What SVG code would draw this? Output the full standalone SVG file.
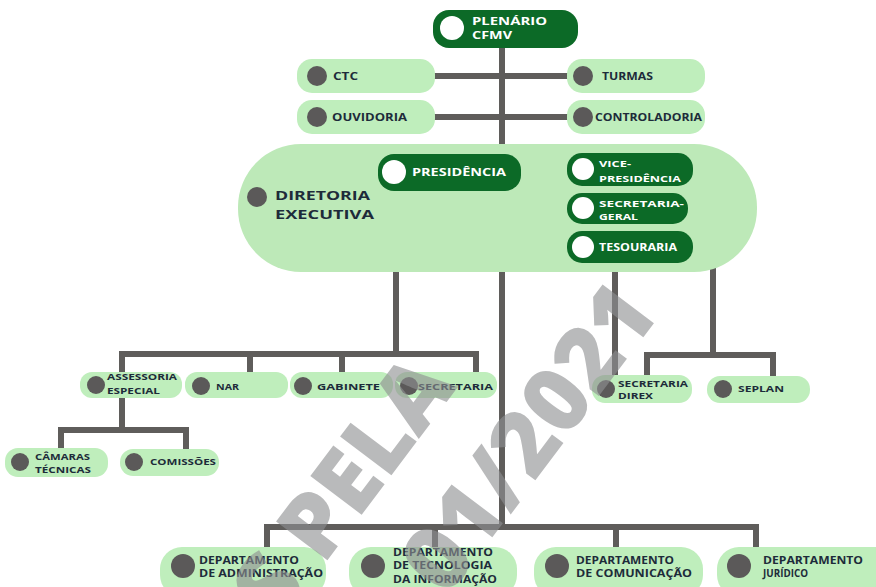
<svg xmlns="http://www.w3.org/2000/svg" width="876" height="587" viewBox="0 0 876 587">
<style>
.pl{fill:#bfeebc}
.pd{fill:#0c6a27}
.cd{fill:#5b5959}
.cw{fill:#ffffff}
.t{fill:#1d2b3a;font-family:"Open Sans","DejaVu Sans",sans-serif;font-weight:700}
.tw{fill:#ffffff;font-family:"Open Sans","DejaVu Sans",sans-serif;font-weight:700}
.ln{fill:none;stroke:#5f5d5b;stroke-width:6;stroke-linecap:square;stroke-linejoin:miter}
.wm{fill:#8f9092;opacity:0.62;font-family:"Open Sans","DejaVu Sans",sans-serif;font-weight:800;font-size:90px}
</style>
<rect width="876" height="587" fill="#ffffff"/>
<g id="connectors">
<path class="ln" d="M502,47 V527"/>
<path class="ln" d="M434,76 H567"/>
<path class="ln" d="M434,117 H567"/>
<path class="ln" d="M396,190 V354"/>
<path class="ln" d="M122,372 V354 H476 V374"/>
<path class="ln" d="M250,354 V374"/>
<path class="ln" d="M342,354 V374"/>
<path class="ln" d="M122,398 V430"/>
<path class="ln" d="M61,448 V430 H186 V448"/>
<path class="ln" d="M615,263 V376"/>
<path class="ln" d="M687,207 H713 V355"/>
<path class="ln" d="M647,376 V355 H773 V376"/>
<path class="ln" d="M267,548 V527 H756 V548"/>
<path class="ln" d="M435,527 V548"/>
<path class="ln" d="M616,527 V548"/>
</g>
<g id="plenario">
<rect class="pd" x="433" y="10" width="145" height="38" rx="16"/>
<circle class="cw" cx="452" cy="28" r="12"/>
<text class="tw" x="472" y="25" font-size="11" textLength="75" lengthAdjust="spacingAndGlyphs">PLENÁRIO</text>
<text class="tw" x="472" y="39" font-size="11" textLength="40" lengthAdjust="spacingAndGlyphs">CFMV</text>
</g>
<g id="ctc">
<rect class="pl" x="297" y="59" width="138" height="34" rx="15"/>
<circle class="cd" cx="317" cy="76" r="10"/>
<text class="t" x="333" y="80" font-size="10.5" textLength="25" lengthAdjust="spacingAndGlyphs">CTC</text>
</g>
<g id="turmas">
<rect class="pl" x="567" y="59" width="138" height="34" rx="15"/>
<circle class="cd" cx="583" cy="76" r="10"/>
<text class="t" x="602" y="80" font-size="10.5" textLength="51" lengthAdjust="spacingAndGlyphs">TURMAS</text>
</g>
<g id="ouvidoria">
<rect class="pl" x="297" y="100" width="138" height="34" rx="15"/>
<circle class="cd" cx="317" cy="117" r="10"/>
<text class="t" x="332" y="121" font-size="10.5" textLength="75" lengthAdjust="spacingAndGlyphs">OUVIDORIA</text>
</g>
<g id="controladoria">
<rect class="pl" x="567" y="100" width="138" height="34" rx="15"/>
<circle class="cd" cx="583" cy="117" r="10"/>
<text class="t" x="595" y="121" font-size="10.5" textLength="107" lengthAdjust="spacingAndGlyphs">CONTROLADORIA</text>
</g>
<g id="diretoria">
<rect class="pl" x="238" y="144" width="519" height="128" rx="63" style="fill:#bde9b8"/>
<circle class="cd" cx="257" cy="197" r="10"/>
<text class="t" x="275" y="200" font-size="13" textLength="95" lengthAdjust="spacingAndGlyphs">DIRETORIA</text>
<text class="t" x="275" y="219" font-size="13" textLength="99" lengthAdjust="spacingAndGlyphs">EXECUTIVA</text>
</g>
<g id="presidencia">
<rect class="pd" x="378" y="154" width="143" height="37" rx="16"/>
<circle class="cw" cx="394" cy="172" r="12"/>
<text class="tw" x="412" y="176" font-size="10" textLength="94" lengthAdjust="spacingAndGlyphs">PRESIDÊNCIA</text>
</g>
<g id="vice-presidencia">
<rect class="pd" x="567" y="153" width="126" height="33" rx="15"/>
<circle class="cw" cx="583" cy="169" r="11"/>
<text class="tw" x="599" y="167" font-size="9" textLength="32" lengthAdjust="spacingAndGlyphs">VICE-</text>
<text class="tw" x="599" y="182" font-size="9" textLength="82" lengthAdjust="spacingAndGlyphs">PRESIDÊNCIA</text>
</g>
<g id="secretaria-geral">
<rect class="pd" x="567" y="193" width="121" height="31" rx="15"/>
<circle class="cw" cx="583" cy="208" r="11"/>
<text class="tw" x="599" y="207" font-size="8.5" textLength="85" lengthAdjust="spacingAndGlyphs">SECRETARIA-</text>
<text class="tw" x="599" y="220" font-size="8.5" textLength="39" lengthAdjust="spacingAndGlyphs">GERAL</text>
</g>
<g id="tesouraria">
<rect class="pd" x="567" y="231" width="126" height="32" rx="15"/>
<circle class="cw" cx="583" cy="247" r="11"/>
<text class="tw" x="599" y="251" font-size="10" textLength="78" lengthAdjust="spacingAndGlyphs">TESOURARIA</text>
</g>
<g id="assessoria-especial">
<rect class="pl" x="80" y="372" width="102" height="26" rx="12"/>
<circle class="cd" cx="96" cy="385" r="9"/>
<text class="t" x="107" y="380" font-size="8" textLength="70" lengthAdjust="spacingAndGlyphs">ASSESSORIA</text>
<text class="t" x="107" y="394" font-size="8" textLength="53" lengthAdjust="spacingAndGlyphs">ESPECIAL</text>
</g>
<g id="nar">
<rect class="pl" x="185" y="372" width="103" height="26" rx="12"/>
<circle class="cd" cx="201" cy="386" r="9"/>
<text class="t" x="216" y="390" font-size="9.5" textLength="23" lengthAdjust="spacingAndGlyphs">NAR</text>
</g>
<g id="gabinete">
<rect class="pl" x="290" y="372" width="103" height="26" rx="12"/>
<circle class="cd" cx="303" cy="386" r="9"/>
<text class="t" x="317" y="390" font-size="9.5" textLength="63" lengthAdjust="spacingAndGlyphs">GABINETE</text>
</g>
<g id="secretaria">
<rect class="pl" x="395" y="372" width="102" height="26" rx="12"/>
<circle class="cd" cx="409" cy="386" r="9"/>
<text class="t" x="418" y="390" font-size="9.5" textLength="75" lengthAdjust="spacingAndGlyphs">SECRETARIA</text>
</g>
<g id="camaras-tecnicas">
<rect class="pl" x="5" y="448" width="103" height="29" rx="13"/>
<circle class="cd" cx="20" cy="462" r="9"/>
<text class="t" x="35" y="460" font-size="8.5" textLength="55" lengthAdjust="spacingAndGlyphs">CÂMARAS</text>
<text class="t" x="35" y="473" font-size="8.5" textLength="56" lengthAdjust="spacingAndGlyphs">TÉCNICAS</text>
</g>
<g id="comissoes">
<rect class="pl" x="120" y="449" width="99" height="27" rx="13"/>
<circle class="cd" cx="134" cy="462" r="9"/>
<text class="t" x="150" y="465" font-size="8.5" textLength="66" lengthAdjust="spacingAndGlyphs">COMISSÕES</text>
</g>
<g id="secretaria-direx">
<rect class="pl" x="592" y="375" width="100" height="28" rx="13"/>
<circle class="cd" cx="606" cy="389" r="9"/>
<text class="t" x="618" y="387" font-size="8.5" textLength="70" lengthAdjust="spacingAndGlyphs">SECRETARIA</text>
<text class="t" x="618" y="399" font-size="8.5" textLength="35" lengthAdjust="spacingAndGlyphs">DIREX</text>
</g>
<g id="seplan">
<rect class="pl" x="707" y="376" width="103" height="27" rx="13"/>
<circle class="cd" cx="723" cy="389" r="9"/>
<text class="t" x="738" y="392" font-size="9" textLength="46" lengthAdjust="spacingAndGlyphs">SEPLAN</text>
</g>
<g id="dep-administracao">
<rect class="pl" x="160" y="547" width="166" height="50" rx="22"/>
<circle class="cd" cx="183" cy="566" r="12"/>
<text class="t" x="199" y="564" font-size="10" textLength="100" lengthAdjust="spacingAndGlyphs">DEPARTAMENTO</text>
<text class="t" x="199" y="577" font-size="10" textLength="124" lengthAdjust="spacingAndGlyphs">DE ADMINISTRAÇÃO</text>
</g>
<g id="dep-tecnologia">
<rect class="pl" x="349" y="547" width="168" height="50" rx="22"/>
<circle class="cd" cx="373" cy="566" r="12"/>
<text class="t" x="393" y="556" font-size="10" textLength="100" lengthAdjust="spacingAndGlyphs">DEPARTAMENTO</text>
<text class="t" x="393" y="569" font-size="10" textLength="99" lengthAdjust="spacingAndGlyphs">DE TECNOLOGIA</text>
<text class="t" x="393" y="583" font-size="10" textLength="104" lengthAdjust="spacingAndGlyphs">DA INFORMAÇÃO</text>
</g>
<g id="dep-comunicacao">
<rect class="pl" x="534" y="547" width="169" height="50" rx="22"/>
<circle class="cd" cx="557" cy="566" r="12"/>
<text class="t" x="576" y="564" font-size="10" textLength="98" lengthAdjust="spacingAndGlyphs">DEPARTAMENTO</text>
<text class="t" x="576" y="577" font-size="10" textLength="116" lengthAdjust="spacingAndGlyphs">DE COMUNICAÇÃO</text>
</g>
<g id="dep-juridico">
<rect class="pl" x="717" y="547" width="180" height="50" rx="22"/>
<circle class="cd" cx="739" cy="566" r="12"/>
<text class="t" x="763" y="564" font-size="10" textLength="100" lengthAdjust="spacingAndGlyphs">DEPARTAMENTO</text>
<text class="t" x="763" y="577" font-size="10" textLength="45" lengthAdjust="spacingAndGlyphs">JURÍDICO</text>
</g>
<g id="watermark" transform="translate(538,437) rotate(-53)">
<text class="wm" x="-8" y="-94" text-anchor="end">S PELA</text>
<text class="wm" x="-6" y="24" text-anchor="middle">01/2021</text>
</g>
</svg>
